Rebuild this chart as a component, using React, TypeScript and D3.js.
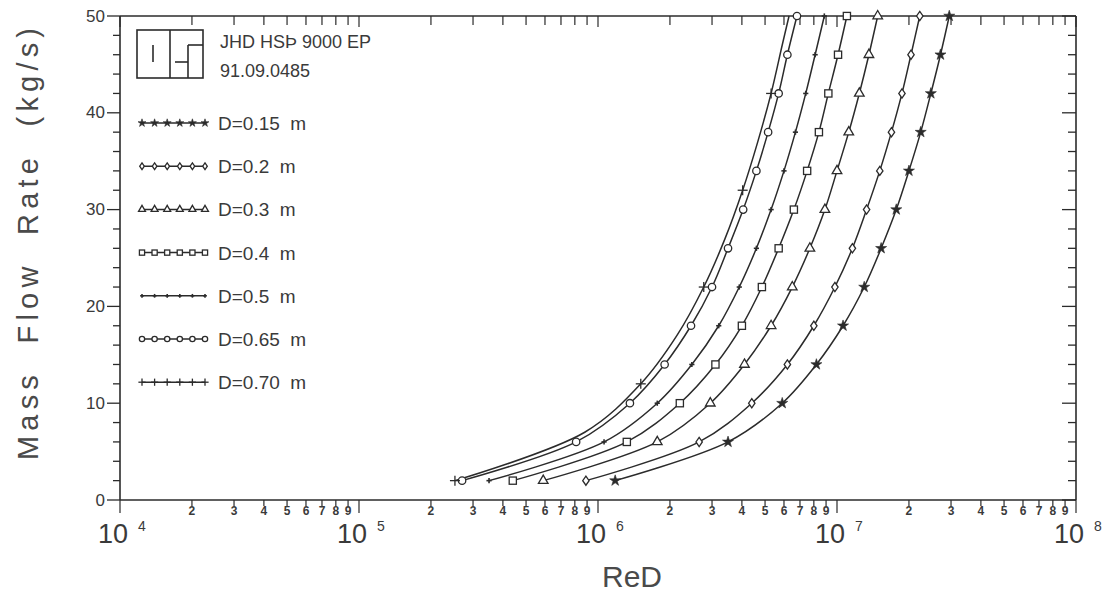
import React from "react";
import * as d3 from "d3";

// ---- data ----
const MASS = [2, 6, 10, 14, 18, 22, 26, 30, 34, 38, 42, 46, 50];
const MASS_070 = [2, 7, 12, 17, 22, 27, 32, 37, 42, 47, 50];
const MARKS_070 = [2, 12, 22, 32, 42];

const RE_015 = [1.18e6, 3.5e6, 5.9e6, 8.2e6, 1.06e7, 1.3e7, 1.53e7, 1.77e7, 2.0e7, 2.24e7, 2.47e7, 2.71e7, 2.95e7];
const RE_020 = [8.9e5, 2.65e6, 4.4e6, 6.2e6, 8.0e6, 9.8e6, 1.16e7, 1.33e7, 1.51e7, 1.69e7, 1.87e7, 2.04e7, 2.22e7];
const RE_030 = [5.9e5, 1.77e6, 2.95e6, 4.1e6, 5.3e6, 6.5e6, 7.7e6, 8.9e6, 1.0e7, 1.12e7, 1.24e7, 1.36e7, 1.48e7];
const RE_040 = [4.4e5, 1.32e6, 2.2e6, 3.1e6, 4.0e6, 4.85e6, 5.7e6, 6.6e6, 7.5e6, 8.4e6, 9.2e6, 1.01e7, 1.1e7];
const RE_050 = [3.5e5, 1.06e6, 1.77e6, 2.47e6, 3.2e6, 3.9e6, 4.6e6, 5.3e6, 6.0e6, 6.7e6, 7.4e6, 8.1e6, 8.85e6];
const RE_065 = [2.7e5, 8.1e5, 1.36e6, 1.9e6, 2.45e6, 3.0e6, 3.5e6, 4.05e6, 4.6e6, 5.15e6, 5.7e6, 6.2e6, 6.8e6];
const RE_070 = [2.52e5, 8.8e5, 1.51e6, 2.14e6, 2.77e6, 3.4e6, 4.03e6, 4.66e6, 5.3e6, 5.9e6, 6.3e6];

const LABELS = ["D=0.15  m", "D=0.2  m", "D=0.3  m", "D=0.4  m", "D=0.5  m", "D=0.65  m", "D=0.70  m"];
const SYMBOLS = ["star", "diamond", "triangle", "square", "smallplus", "circle", "plus"];

const Y_TICKS = [0, 10, 20, 30, 40, 50];
const Y_MINOR = d3.range(0, 51, 2);
const DECADES = [4, 5, 6, 7, 8];
const MINOR_DIGITS = [2, 3, 4, 5, 6, 7, 8, 9];

const HEADER_1 = "JHD HSÞ 9000 EP";
const HEADER_2 = "91.09.0485";
const X_TITLE = "ReD";
const Y_TITLE = "Mass  Flow  Rate  (kg/s)";

// ---- layout ----
const W = 1108;
const H = 596;
const L = 120, R = 1076, T = 16, B = 500;
const INK = "#2b2b2b";
const TXT = "#3a3a3a";
const FONT = "'Liberation Sans', Arial, Helvetica, sans-serif";

const x = d3.scaleLog().domain([1e4, 1e8]).range([L, R]);
const y = d3.scaleLinear().domain([0, 50]).range([B, T]);

type Series = { label: string; sym: string; mass: number[]; re: number[]; marks: number[] };

const SERIES: Series[] = [
  { label: LABELS[0], sym: SYMBOLS[0], mass: MASS, re: RE_015, marks: MASS },
  { label: LABELS[1], sym: SYMBOLS[1], mass: MASS, re: RE_020, marks: MASS },
  { label: LABELS[2], sym: SYMBOLS[2], mass: MASS, re: RE_030, marks: MASS },
  { label: LABELS[3], sym: SYMBOLS[3], mass: MASS, re: RE_040, marks: MASS },
  { label: LABELS[4], sym: SYMBOLS[4], mass: MASS, re: RE_050, marks: MASS },
  { label: LABELS[5], sym: SYMBOLS[5], mass: MASS, re: RE_065, marks: MASS },
  { label: LABELS[6], sym: SYMBOLS[6], mass: MASS_070, re: RE_070, marks: MARKS_070 },
];

function Marker({ sym, cx, cy, s = 1 }: { sym: string; cx: number; cy: number; s?: number }) {
  const sw = 1.3;
  switch (sym) {
    case "star": {
      const p = d3.symbol(d3.symbolStar).size(38 * s * s)();
      return <path d={p || ""} transform={`translate(${cx},${cy})`} fill={INK} stroke={INK} strokeWidth={0.6} />;
    }
    case "diamond": {
      const a = 3.2 * s, b = 4.6 * s;
      return <path d={`M${cx},${cy - b}L${cx + a},${cy}L${cx},${cy + b}L${cx - a},${cy}Z`} fill="white" stroke={INK} strokeWidth={sw} />;
    }
    case "triangle": {
      const p = d3.symbol(d3.symbolTriangle).size(40 * s * s)();
      return <path d={p || ""} transform={`translate(${cx},${cy})`} fill="white" stroke={INK} strokeWidth={sw} />;
    }
    case "square": {
      const h = 3.6 * s;
      return <rect x={cx - h} y={cy - h} width={2 * h} height={2 * h} fill="white" stroke={INK} strokeWidth={sw} />;
    }
    case "smallplus": {
      const h = 2.6 * s;
      return (
        <g stroke={INK} strokeWidth={1.6}>
          <line x1={cx - h} y1={cy} x2={cx + h} y2={cy} />
          <line x1={cx} y1={cy - h} x2={cx} y2={cy + h} />
        </g>
      );
    }
    case "circle":
      return <circle cx={cx} cy={cy} r={3.7 * s} fill="white" stroke={INK} strokeWidth={sw} />;
    case "plus": {
      const h = 5 * s;
      return (
        <g stroke={INK} strokeWidth={1.3}>
          <line x1={cx - h} y1={cy} x2={cx + h} y2={cy} />
          <line x1={cx} y1={cy - h} x2={cx} y2={cy + h} />
        </g>
      );
    }
    default:
      return null;
  }
}

export default function App() {
  const line = d3
    .line<[number, number]>()
    .x((d) => x(d[1]))
    .y((d) => y(d[0]))
    .curve(d3.curveCatmullRom.alpha(0.5));

  const minorX: number[] = [];
  DECADES.slice(0, -1).forEach((e) => MINOR_DIGITS.forEach((k) => minorX.push(k * Math.pow(10, e))));

  return (
    <svg width={W} height={H} style={{ display: "block", position: "absolute", left: 0, top: 0, background: "white" }}>
      <rect x={0} y={0} width={W} height={H} fill="white" />

      {/* frame */}
      <g stroke={INK} strokeWidth={1.6} fill="none">
        <line x1={L} y1={T} x2={L} y2={B} />
        <line x1={L} y1={B} x2={R} y2={B} />
        <line x1={L} y1={T} x2={R} y2={T} />
        <line x1={R} y1={T} x2={R} y2={B} />
      </g>

      {/* y ticks left (outward) and right (inward) */}
      <g stroke={INK} strokeWidth={1.3}>
        {Y_MINOR.map((v) => {
          const major = v % 10 === 0;
          return (
            <g key={"yt" + v}>
              <line x1={L - (major ? 13 : 7)} y1={y(v)} x2={L} y2={y(v)} />
              <line x1={R - (major ? 14 : 8)} y1={y(v)} x2={R} y2={y(v)} />
            </g>
          );
        })}
      </g>
      <g fontFamily={FONT} fontSize={17} fill={TXT} textAnchor="end">
        {Y_TICKS.map((v) => (
          <text key={"yl" + v} x={105} y={y(v)} dominantBaseline="central">
            {v}
          </text>
        ))}
      </g>

      {/* x ticks bottom (outward) and top (inward) */}
      <g stroke={INK} strokeWidth={1.2}>
        {minorX.map((v) => (
          <g key={"xt" + v}>
            <line x1={x(v)} y1={B} x2={x(v)} y2={B + 6} />
            <line x1={x(v)} y1={T} x2={x(v)} y2={T + 9} />
          </g>
        ))}
        {DECADES.map((e) => (
          <g key={"xd" + e}>
            <line x1={x(Math.pow(10, e))} y1={B} x2={x(Math.pow(10, e))} y2={B + 13} />
            <line x1={x(Math.pow(10, e))} y1={T} x2={x(Math.pow(10, e))} y2={T + 11} />
          </g>
        ))}
      </g>
      <g fontFamily={FONT} fontSize={12} fontWeight="bold" fill={TXT} textAnchor="middle">
        {minorX.map((v) => (
          <text key={"xl" + v} x={x(v)} y={515}>
            {Math.round(v / Math.pow(10, Math.floor(Math.log10(v) + 1e-9)))}
          </text>
        ))}
      </g>
      <g fontFamily={FONT} fill={TXT}>
        {DECADES.map((e) => (
          <g key={"dl" + e}>
            <text x={x(Math.pow(10, e)) - 7} y={543} fontSize={27} textAnchor="middle">
              10
            </text>
            <text x={x(Math.pow(10, e)) + 18} y={531} fontSize={14}>
              {e}
            </text>
          </g>
        ))}
      </g>

      {/* axis titles */}
      <text x={602} y={587} fontFamily={FONT} fontSize={30} fill="#4a4a4a">
        {X_TITLE}
      </text>
      <text
        transform={`translate(38,244) rotate(-90)`}
        textAnchor="middle"
        fontFamily={FONT}
        fontSize={29}
        fill="#4a4a4a"
        textLength={432}
        lengthAdjust="spacing"
        style={{ whiteSpace: "pre" }}
      >
        {Y_TITLE}
      </text>

      {/* curves */}
      <g>
        {SERIES.map((s, i) => {
          const pts: [number, number][] = s.mass.map((m, j) => [m, s.re[j]]);
          return <path key={"c" + i} d={line(pts) || ""} fill="none" stroke={INK} strokeWidth={1.5} />;
        })}
        {SERIES.map((s, i) =>
          s.marks.map((m) => {
            const j = s.mass.indexOf(m);
            return <Marker key={"m" + i + "-" + m} sym={s.sym} cx={x(s.re[j])} cy={y(m)} />;
          })
        )}
      </g>

      {/* logo + header */}
      <g stroke={INK} strokeWidth={1.6} fill="none">
        <rect x={137} y={30} width={66} height={48} />
        <line x1={170} y1={30} x2={170} y2={78} />
        <line x1={153} y1={45} x2={153} y2={62} />
        <line x1={188} y1={45} x2={188} y2={78} />
        <line x1={188} y1={45} x2={203} y2={45} />
        <line x1={175} y1={62} x2={188} y2={62} />
      </g>
      <g fontFamily={FONT} fontSize={18} fill={TXT}>
        <text x={220} y={48}>{HEADER_1}</text>
        <text x={220} y={77}>{HEADER_2}</text>
      </g>

      {/* legend */}
      {SERIES.map((s, i) => {
        const by = 130 + i * 43.2;
        const ly = by - 7;
        const xs = d3.range(6).map((k) => 142 + (k * (205 - 142)) / 5);
        return (
          <g key={"lg" + i}>
            <line x1={142} y1={ly} x2={205} y2={ly} stroke={INK} strokeWidth={1.5} />
            {xs.map((xx, k) => (
              <Marker key={k} sym={s.sym} cx={xx} cy={ly} s={0.72} />
            ))}
            <text x={218} y={by} fontFamily={FONT} fontSize={19} fill={TXT} style={{ whiteSpace: "pre" }}>
              {s.label}
            </text>
          </g>
        );
      })}
    </svg>
  );
}
